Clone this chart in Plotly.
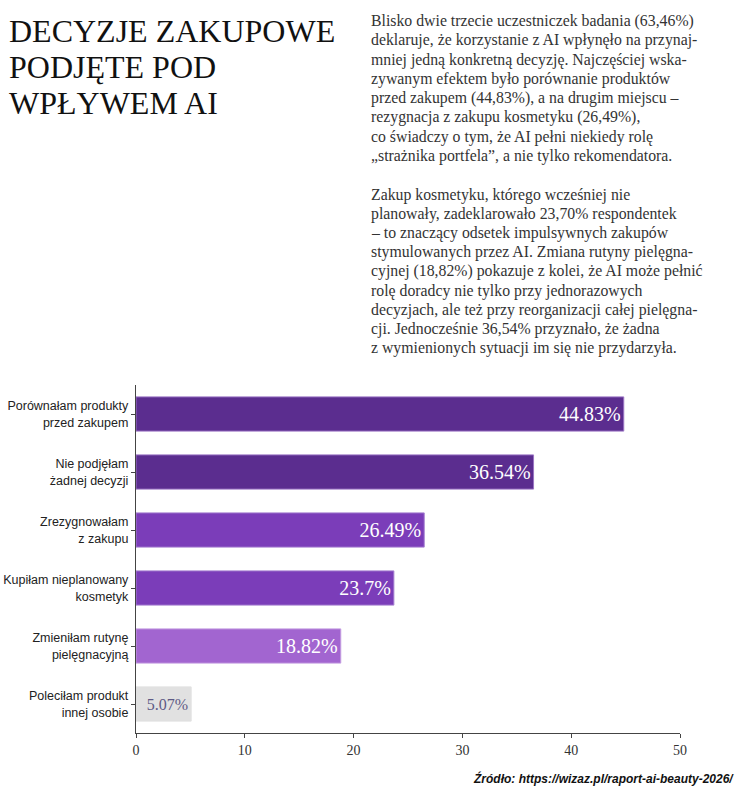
import plotly.graph_objects as go

categories = [
    "Porównałam produkty<br>przed zakupem",
    "Nie podjęłam<br>żadnej decyzji",
    "Zrezygnowałam<br>z zakupu",
    "Kupiłam nieplanowany<br>kosmetyk",
    "Zmieniłam rutynę<br>pielęgnacyjną",
    "Poleciłam produkt<br>innej osobie",
]
values = [44.83, 36.54, 26.49, 23.7, 18.82, 5.07]
value_labels = ["44.83%", "36.54%", "26.49%", "23.7%", "18.82%", "5.07%"]
bar_colors = ["#5b2d8f", "#5b2d8f", "#7b3db9", "#7b3db9", "#a265d0", "#e1e1e1"]
edge_colors = ["#9b74c4", "#9b74c4", "#a57fd0", "#a57fd0", "#c39be0", "#e1e1e1"]
label_colors = ["#ffffff", "#ffffff", "#ffffff", "#ffffff", "#ffffff", "#5e5a85"]
label_sizes = [20, 20, 20, 20, 20, 16]
x_ticks = [0, 10, 20, 30, 40, 50]

title_lines = ["DECYZJE ZAKUPOWE", "PODJĘTE POD", "WPŁYWEM AI"]
para1 = [
    "Blisko dwie trzecie uczestniczek badania (63,46%)",
    "deklaruje, że korzystanie z AI wpłynęło na przynaj-",
    "mniej jedną konkretną decyzję. Najczęściej wska-",
    "zywanym efektem było porównanie produktów",
    "przed zakupem (44,83%), a na drugim miejscu –",
    "rezygnacja z zakupu kosmetyku (26,49%),",
    "co świadczy o tym, że AI pełni niekiedy rolę",
    "„strażnika portfela”, a nie tylko rekomendatora.",
]
para2 = [
    "Zakup kosmetyku, którego wcześniej nie",
    "planowały, zadeklarowało 23,70% respondentek",
    "– to znaczący odsetek impulsywnych zakupów",
    "stymulowanych przez AI. Zmiana rutyny pielęgna-",
    "cyjnej (18,82%) pokazuje z kolei, że AI może pełnić",
    "rolę doradcy nie tylko przy jednorazowych",
    "decyzjach, ale też przy reorganizacji całej pielęgna-",
    "cji. Jednocześnie 36,54% przyznało, że żadna",
    "z wymienionych sytuacji im się nie przydarzyła.",
]
source_text = "Źródło: https://wizaz.pl/raport-ai-beauty-2026/"

L, R, T, B = 136, 61, 385, 65
W, H = 741, 798
PW, PH = W - L - R, H - T - B


def px_x(px):
    return (px - L) / PW


def px_y(py):
    return (H - B - py) / PH


fig = go.Figure(go.Bar(
    x=values,
    y=categories,
    orientation="h",
    width=0.59,
    marker=dict(color=bar_colors, line=dict(color=edge_colors, width=1)),
    text=value_labels,
    textposition="inside",
    insidetextanchor="end",
    textfont=dict(family="Liberation Serif", size=label_sizes, color=label_colors),
    constraintext="none",
    hoverinfo="skip",
))

fig.update_layout(
    width=W, height=H,
    margin=dict(l=L, r=R, t=T, b=B, autoexpand=False),
    paper_bgcolor="white", plot_bgcolor="white",
    showlegend=False,
    xaxis=dict(
        range=[0, 50], tickvals=x_ticks, ticktext=[str(t) for t in x_ticks],
        showgrid=False, zeroline=False, automargin=False,
        showline=True, linecolor="#444", linewidth=1.3,
        ticks="outside", ticklen=4, tickcolor="#444",
        tickfont=dict(family="Liberation Serif", size=14, color="#333"),
    ),
    yaxis=dict(
        autorange="reversed", automargin=False,
        showgrid=False, zeroline=False,
        showline=True, linecolor="#444", linewidth=1.3,
        ticks="outside", ticklen=4, tickcolor="#444",
        tickfont=dict(family="Liberation Sans", size=12.5, color="#222"),
    ),
)

for i, line in enumerate(title_lines):
    fig.add_annotation(
        text=line, xref="paper", yref="paper",
        x=px_x(7), y=px_y(31 + 36 * i),
        xanchor="left", yanchor="middle", showarrow=False,
        font=dict(family="Liberation Serif", size=32, color="#111"),
    )

for i, line in enumerate(para1):
    fig.add_annotation(
        text=line, xref="paper", yref="paper",
        x=px_x(369), y=px_y(21 + 19.3 * i),
        xanchor="left", yanchor="middle", showarrow=False,
        font=dict(family="Liberation Serif", size=15.8, color="#333"),
    )

for i, line in enumerate(para2):
    fig.add_annotation(
        text=line, xref="paper", yref="paper",
        x=px_x(369), y=px_y(195 + 19.1 * i),
        xanchor="left", yanchor="middle", showarrow=False,
        font=dict(family="Liberation Serif", size=15.8, color="#333"),
    )

fig.add_annotation(
    text="<b><i>" + source_text + "</i></b>",
    xref="paper", yref="paper", x=px_x(736), y=px_y(778),
    xanchor="right", yanchor="middle", showarrow=False,
    font=dict(family="Liberation Sans", size=12, color="#111"),
)

fig.write_html("out.html")
